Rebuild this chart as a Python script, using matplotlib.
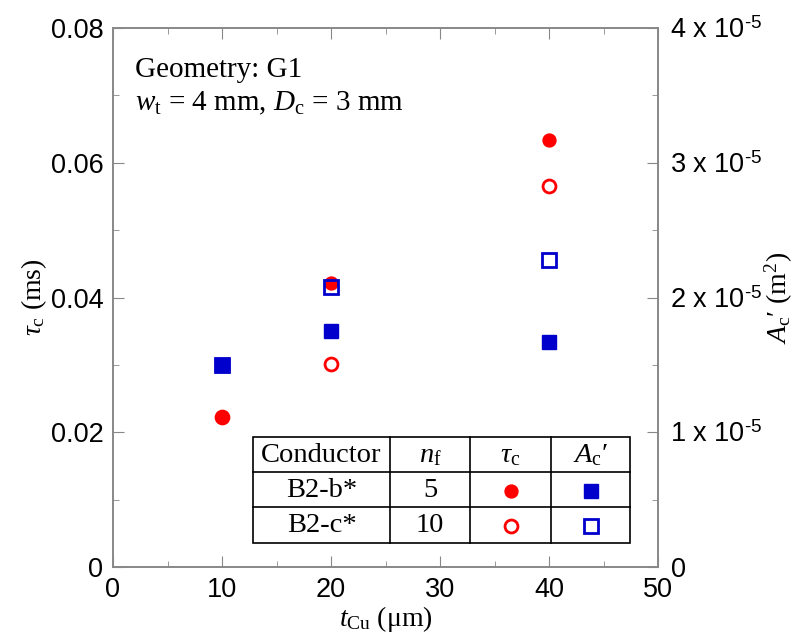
import matplotlib
matplotlib.use("Agg")
import matplotlib.pyplot as plt
from matplotlib.ticker import MultipleLocator, FuncFormatter
from matplotlib.patches import Rectangle

plt.rcParams['mathtext.fontset'] = 'custom'
plt.rcParams['mathtext.rm'] = 'Liberation Serif'
plt.rcParams['mathtext.it'] = 'Liberation Serif:italic'
plt.rcParams['mathtext.sf'] = 'Liberation Sans'

# data
t_cu_b = [10, 20, 40]
tau_b = [0.0222, 0.0422, 0.0634]       # B2-b*, n_f = 5 (filled circles)
t_cu_c = [10, 20, 40]
tau_c = [0.0222, 0.0302, 0.0566]       # B2-c*, n_f = 10 (open circles)
A_b = [1.50e-5, 1.75e-5, 1.67e-5]      # filled squares
A_c = [1.50e-5, 2.08e-5, 2.28e-5]      # open squares

conductors = ["B2-b*", "B2-c*"]
n_f = ["5", "10"]

red = "#ff0000"
blue = "#0000cc"
grey = "#888888"

W, H = 800, 642
L, R, T, B = 113, 658, 28, 567
fig = plt.figure(figsize=(8, 6.42), dpi=100)
ax = fig.add_axes([L / W, (H - B) / H, (R - L) / W, (B - T) / H])
ax2 = ax.twinx()

ax.plot(t_cu_c, tau_c, 'o', ms=9.3, mfc='white', mec=red, mew=2, zorder=3)
ax.plot(t_cu_b, tau_b, 'o', ms=9.3, mfc=red, mec=red, zorder=4)
ax2.plot(t_cu_b, A_b, 's', ms=10, mfc=blue, mec=blue, zorder=4)
ax2.plot(t_cu_c, A_c, 's', ms=10, mfc='none', mec=blue, mew=2, zorder=5)

ax.set_xlim(0, 50)
ax.set_ylim(0, 0.08)
ax2.set_ylim(0, 4e-5)

ax.xaxis.set_major_locator(MultipleLocator(10))
ax.xaxis.set_minor_locator(MultipleLocator(5))
ax.yaxis.set_major_locator(MultipleLocator(0.02))
ax.yaxis.set_minor_locator(MultipleLocator(0.01))
ax2.yaxis.set_major_locator(MultipleLocator(1e-5))
ax2.yaxis.set_minor_locator(MultipleLocator(0.5e-5))

ax.yaxis.set_major_formatter(FuncFormatter(lambda v, p: "0" if abs(v) < 1e-12 else f"{v:.2f}"))
ax2.yaxis.set_major_formatter(FuncFormatter(
    lambda v, p: "0" if abs(v) < 1e-12 else f"{v*1e5:.0f} x 10" + "$^{\\mathsf{\u2010 5}}$"))

for a in (ax, ax2):
    for s in a.spines.values():
        s.set_color(grey)
        s.set_linewidth(1.2)
    a.tick_params(which='both', direction='in', color=grey, labelsize=19.5,
                  labelfontfamily='Liberation Sans')
    a.tick_params(which='major', length=8)
    a.tick_params(which='minor', length=4)
ax.tick_params(which='both', top=True, pad=7)
ax2.tick_params(which='both', pad=9)

ax.set_xlabel(r"$t_{\mathrm{Cu}}$ (μm)", fontsize=20, family='Liberation Serif', labelpad=1)
ax.set_ylabel(r"$\tau_{\mathrm{c}}$ (ms)", fontsize=20, family='Liberation Serif', labelpad=1)
ax2.set_ylabel(r"$A_{\mathrm{c}}$" + "\u2032 (m$^2$)", fontsize=20, family='Liberation Serif',
               rotation=90, labelpad=0)

def fx(px):
    return (px - L) / float(R - L)
def fy(py):
    return (B - py) / float(B - T)

ax.text(fx(135), fy(70), "Geometry: G1", transform=ax.transAxes, fontsize=21,
        family='Liberation Serif', va='center')
ax.text(fx(135), fy(103), r"$w_{\mathrm{t}}$ = 4 mm, $D_{\mathrm{c}}$ = 3 mm", transform=ax.transAxes,
        fontsize=21, family='Liberation Serif', va='center')

# table (axes fraction coordinates)
cols = [253, 390, 470, 551, 630]
rows = [437, 472, 507, 543]
tab = dict(transform=ax2.transAxes, clip_on=False)
ax2.add_patch(Rectangle((fx(cols[0]), fy(rows[-1])), fx(cols[-1]) - fx(cols[0]),
                        fy(rows[0]) - fy(rows[-1]), facecolor='white', edgecolor='black',
                        lw=1.2, zorder=6, **tab))
for c in cols[1:-1]:
    ax2.plot([fx(c), fx(c)], [fy(rows[0]), fy(rows[-1])], color='black', lw=1.2, zorder=7, **tab)
for r in rows[1:-1]:
    ax2.plot([fx(cols[0]), fx(cols[-1])], [fy(r), fy(r)], color='black', lw=1.2, zorder=7, **tab)

def cx(i):
    return fx((cols[i] + cols[i + 1]) / 2)
def cy(j):
    return fy((rows[j] + rows[j + 1]) / 2 + 1)

tk = dict(transform=ax2.transAxes, ha='center', va='center', fontsize=20.5,
          family='Liberation Serif', zorder=8)
ax2.text(cx(0), cy(0), "Conductor", **tk)
ax2.text(cx(1), cy(0), r"$n_{\mathrm{f}}$", **tk)
ax2.text(cx(2), cy(0), r"$\tau_{\mathrm{c}}$", **tk)
ax2.text(cx(3), cy(0), r"$A_{\mathrm{c}}$" + "\u2032", **tk)
for j in range(2):
    ax2.text(cx(0), cy(j + 1), conductors[j], **tk)
    ax2.text(cx(1), cy(j + 1), n_f[j], **tk)

mk = dict(transform=ax2.transAxes, clip_on=False, zorder=9)
ax2.plot([cx(2)], [cy(1)], 'o', ms=9.3, mfc=red, mec=red, **mk)
ax2.plot([cx(2)], [cy(2)], 'o', ms=9.3, mfc='white', mec=red, mew=2, **mk)
ax2.plot([cx(3)], [cy(1)], 's', ms=10, mfc=blue, mec=blue, **mk)
ax2.plot([cx(3)], [cy(2)], 's', ms=10, mfc='none', mec=blue, mew=2, **mk)

fig.savefig("out.png", dpi=100)
